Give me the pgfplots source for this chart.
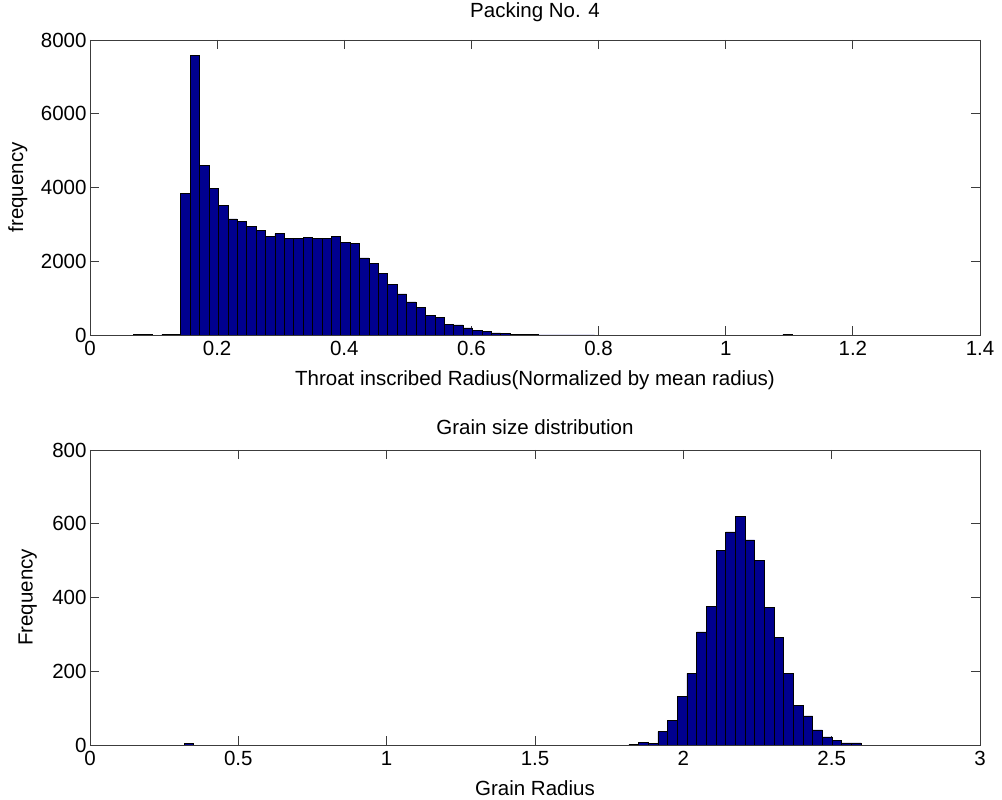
\documentclass[border=0pt]{standalone}
\usepackage{pgfplots}
\pgfplotsset{compat=1.18}
\usepackage{fontspec}
\setmainfont{Liberation Sans}

\definecolor{barblue}{RGB}{0,0,143}
\definecolor{axisgray}{RGB}{60,60,60}

% bin centres and counts of the throat-radius histogram
\pgfplotstableread{
x       y
0.0761  25
0.0909  25
0.1205  25
0.1353  25
0.1501  3843
0.1649  7575
0.1797  4600
0.1945  3968
0.2093  3507
0.2241  3146
0.2389  3083
0.2537  2938
0.2685  2847
0.2833  2667
0.2981  2748
0.3129  2630
0.3277  2612
0.3425  2649
0.3573  2612
0.3721  2612
0.3869  2676
0.4017  2513
0.4165  2486
0.4313  2088
0.4461  1944
0.4609  1672
0.4757  1365
0.4905  1112
0.5053  895
0.5201  741
0.5349  524
0.5497  479
0.5645  298
0.5793  271
0.5941  190
0.6089  117
0.6237  100
0.6385  60
0.6533  50
0.6681  25
0.6829  10
0.6977  8
0.7125  6
0.7273  5
0.7421  4
0.7569  3
0.7717  3
0.7865  2
1.0973  25
}\throattable

% bin centres and counts of the grain-radius histogram
\pgfplotstableread{
x       y
0.3334  4
1.8330  2
1.8656  8
1.8982  4
1.9308  36
1.9634  66
1.9960  131
2.0286  194
2.0612  307
2.0938  376
2.1264  527
2.1590  578
2.1916  619
2.2242  556
2.2568  500
2.2894  373
2.3220  292
2.3546  195
2.3872  108
2.4198  79
2.4524  41
2.4850  22
2.5176  12
2.5502  6
2.5828  6
}\graintable

\pgfplotsset{
  histaxis/.style={
    scale only axis, width=890pt, height=295pt,
    anchor=south west,
    axis line style={axisgray, line width=0.9pt},
    tick align=inside, major tick length=9pt,
    every tick/.style={axisgray, line width=0.9pt},
    minor tick num=0,
    ymin=0,
    /pgf/number format/1000 sep={},
    /pgf/number format/assume math mode=true,
    tick label style={font=\fontsize{20.5}{24}\selectfont},
    xticklabel style={yshift=-3pt},
    label style={font=\fontsize{20.5}{24}\selectfont},
    title style={font=\fontsize{20.5}{24}\selectfont},
    ylabel style={at={(axis description cs:-0.081,0.5)}, anchor=center, rotate=0},
    xlabel style={at={(axis description cs:0.5,-0.152)}, anchor=center},
    % cancel the default 6pt lift of the title
    title style={at={(axis description cs:0.5,1.095)}, anchor=center, yshift=-6pt},
  },
  histbars/.style={ybar, fill=barblue, draw=black, line width=0.5pt},
}

\begin{document}
\begin{tikzpicture}
\useasboundingbox (0,0) rectangle (1002pt,800pt);

\begin{axis}[histaxis,
  at={(90pt,465pt)},
  xmin=0, xmax=1.4, ymax=8000,
  xtick={0,0.2,0.4,0.6,0.8,1,1.2,1.4},
  xticklabels={0,0.2,0.4,0.6,0.8,1,1.2,1.4},
  ytick={0,2000,4000,6000,8000},
  title={Packing No. 4},
  xlabel={Throat inscribed Radius(Normalized by mean radius)},
  ylabel={frequency},
]
\addplot[histbars, bar width=0.0148] table[x=x, y=y] {\throattable};
\end{axis}

\begin{axis}[histaxis,
  at={(90pt,55pt)},
  xmin=0, xmax=3, ymax=800,
  xtick={0,0.5,1,1.5,2,2.5,3},
  xticklabels={0,0.5,1,1.5,2,2.5,3},
  ytick={0,200,400,600,800},
  ylabel style={at={(axis description cs:-0.070,0.5)}},
  xlabel style={at={(axis description cs:0.5,-0.146)}},
  title style={at={(axis description cs:0.5,1.078)}},
  title={Grain size distribution},
  xlabel={Grain Radius},
  ylabel={Frequency},
]
\addplot[histbars, bar width=0.0326] table[x=x, y=y] {\graintable};
\end{axis}
\end{tikzpicture}
\end{document}
